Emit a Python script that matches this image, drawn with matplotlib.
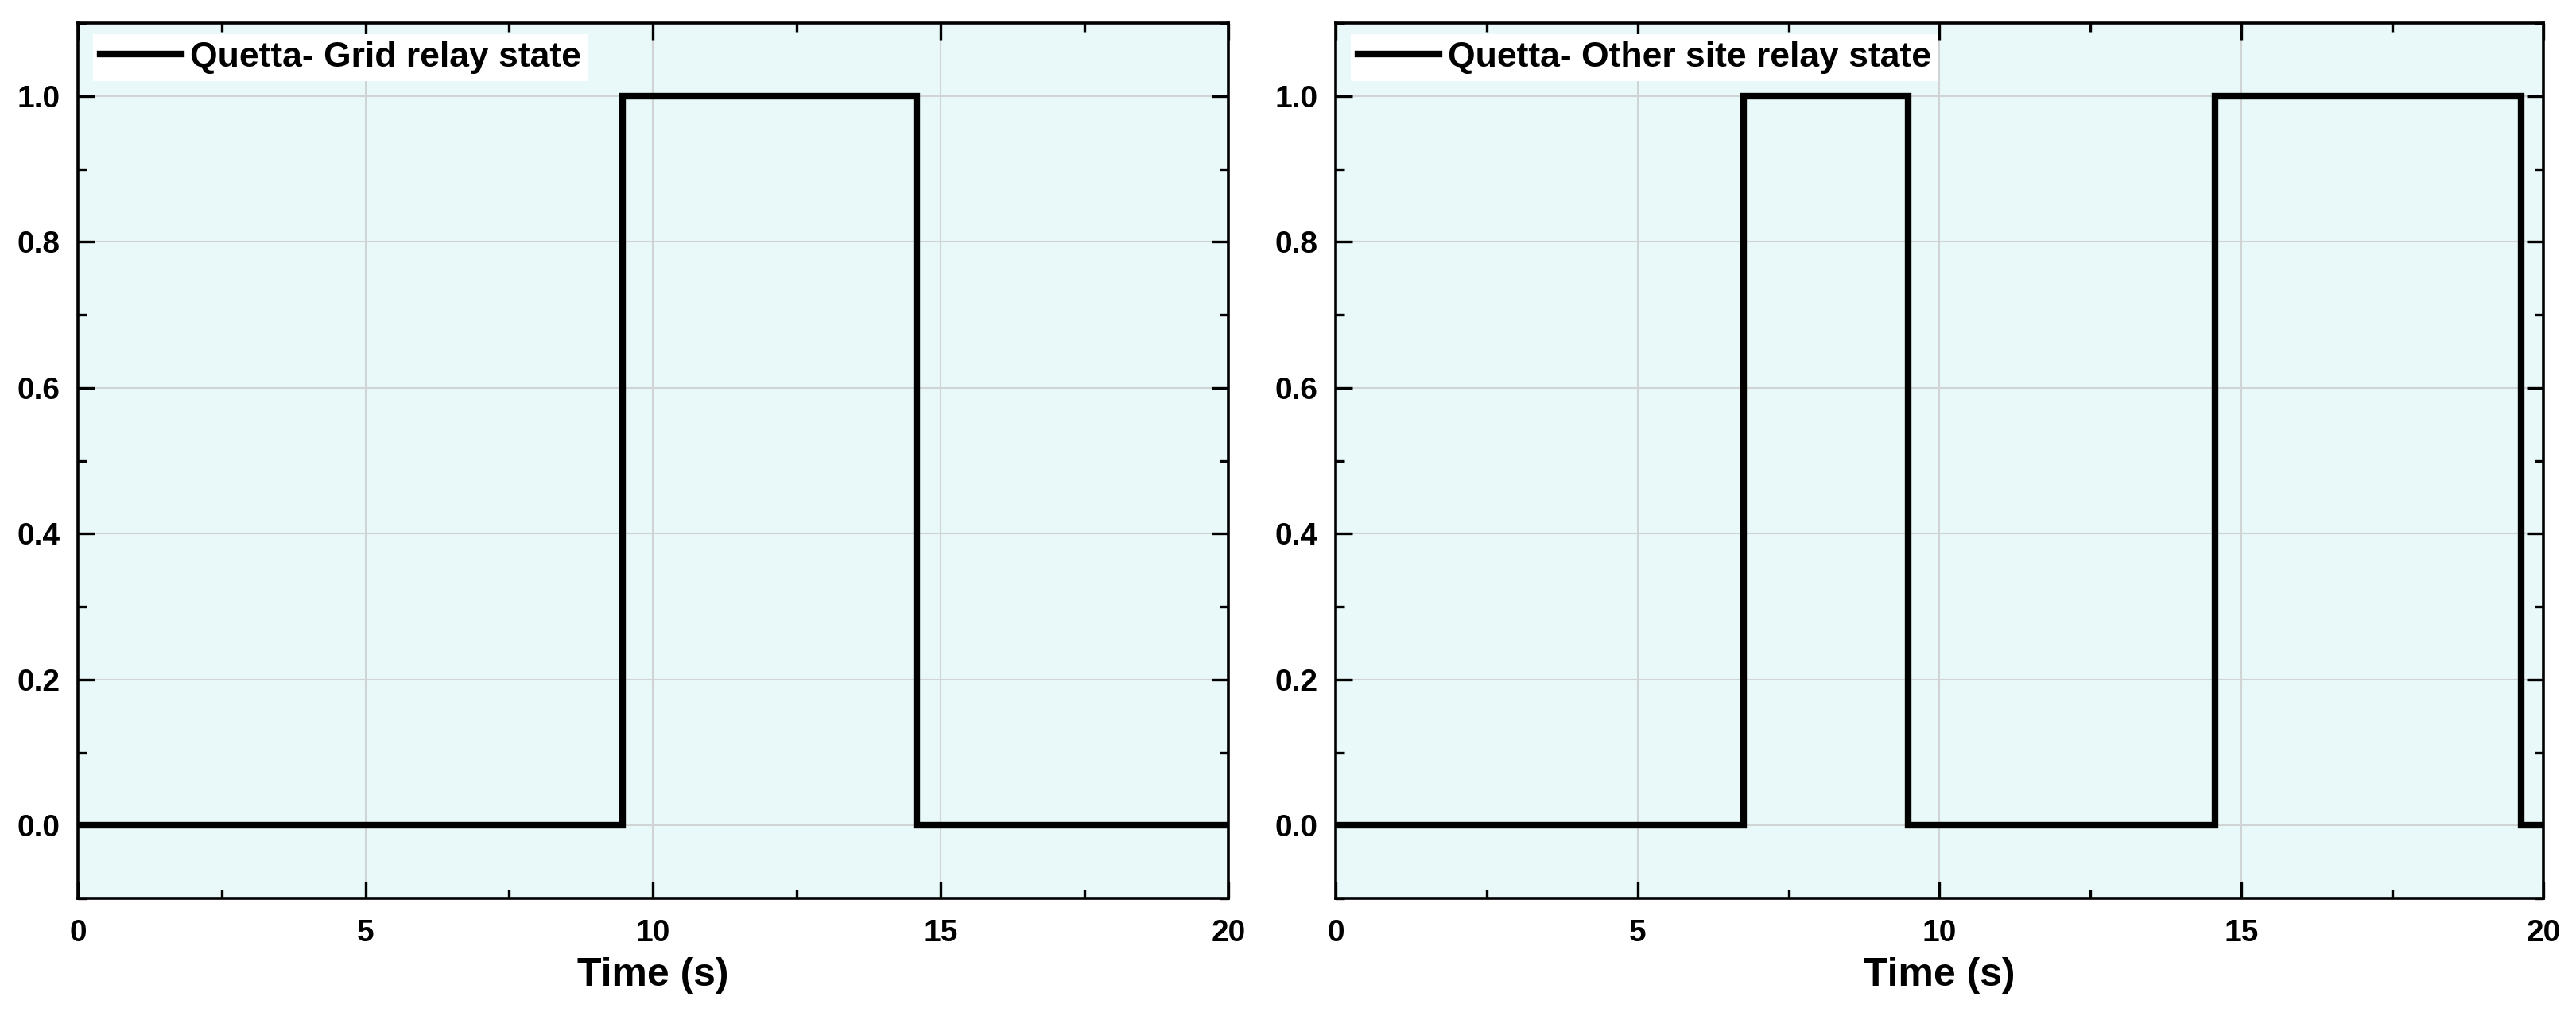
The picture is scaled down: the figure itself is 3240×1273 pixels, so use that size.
import matplotlib.pyplot as plt
from matplotlib.ticker import MultipleLocator

# relay switching instants (s) and states
grid_t = [0, 9.47, 14.58, 20]
grid_state = [0, 1, 0, 0]

other_t = [0, 6.76, 9.48, 14.57, 19.63, 20]
other_state = [0, 1, 0, 1, 0, 0]

labels = ["Quetta- Grid relay state", "Quetta- Other site relay state"]

plt.rcParams['font.family'] = ['Liberation Sans', 'DejaVu Sans']
plt.rcParams['font.weight'] = 'bold'

fig = plt.figure(figsize=(32.4, 12.73), dpi=100)
ax1 = fig.add_axes([0.0302, 0.1123, 0.4466, 0.8649])
ax2 = fig.add_axes([0.5185, 0.1123, 0.4688, 0.8649])

series = [(grid_t, grid_state), (other_t, other_state)]

for ax, (t, s), lab in zip([ax1, ax2], series, labels):
    ax.set_facecolor('#e9f8f8')
    ax.plot(t, s, drawstyle='steps-post', color='black', linewidth=6,
            solid_joinstyle='miter', label=lab, zorder=3)
    ax.set_xlim(0, 20)
    ax.set_ylim(-0.1, 1.1)
    ax.xaxis.set_major_locator(MultipleLocator(5))
    ax.xaxis.set_minor_locator(MultipleLocator(2.5))
    ax.yaxis.set_major_locator(MultipleLocator(0.2))
    ax.yaxis.set_minor_locator(MultipleLocator(0.1))
    ax.yaxis.set_major_formatter(lambda v, p: f"{v:.1f}")
    ax.grid(True, which='major', color='#d0d4d4', linewidth=1.5)
    ax.set_axisbelow(True)
    ax.tick_params(which='both', direction='in', top=True, right=True,
                   width=2.4, labelsize=28)
    ax.tick_params(which='major', length=15)
    ax.tick_params(which='minor', length=8)
    ax.tick_params(axis='x', pad=19)
    ax.tick_params(axis='y', pad=16)
    for sp in ax.spines.values():
        sp.set_linewidth(2.6)
    ax.set_xlabel('Time (s)', fontsize=36, fontweight='bold', labelpad=8)
    w = ax.get_position().width * 3240
    h = ax.get_position().height * 1273
    leg = ax.legend(loc='upper left', bbox_to_anchor=(19 / w, 1 - 14 / h),
                    borderaxespad=0, fontsize=32, frameon=True, fancybox=False,
                    framealpha=1, edgecolor='none', handlelength=2.3,
                    handletextpad=0.25, borderpad=0.2)
    for line in leg.get_lines():
        line.set_linewidth(6)

fig.savefig('out.png', dpi=100)
